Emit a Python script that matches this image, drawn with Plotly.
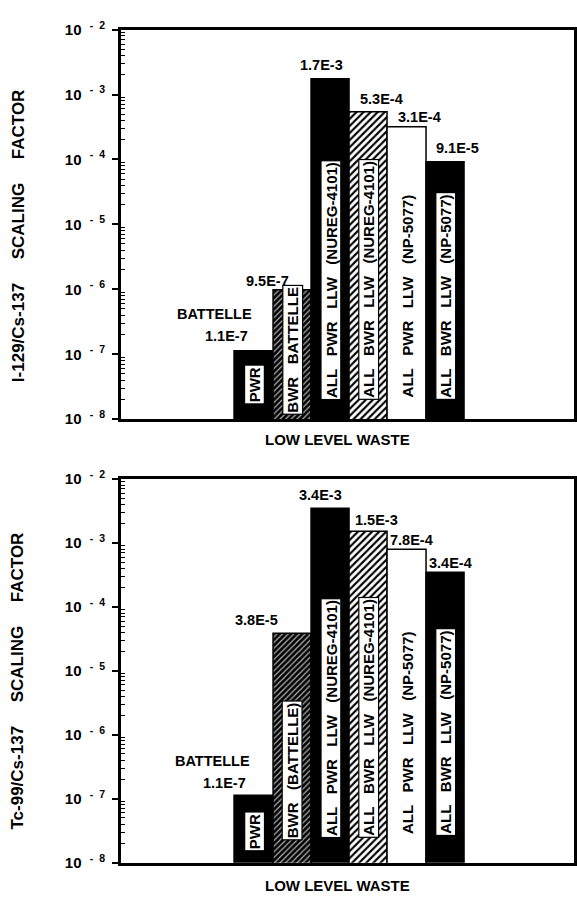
import math
import plotly.graph_objects as go

# ---------------- data ----------------
categories = ["PWR (BATTELLE)", "BWR (BATTELLE)", "ALL PWR LLW (NUREG-4101)",
              "ALL BWR LLW (NUREG-4101)", "ALL PWR LLW (NP-5077)", "ALL BWR LLW (NP-5077)"]
i129_values = [1.1e-7, 9.5e-7, 1.7e-3, 5.3e-4, 3.1e-4, 9.1e-5]
tc99_values = [1.1e-7, 3.8e-5, 3.4e-3, 1.5e-3, 7.8e-4, 3.4e-4]
i129_value_labels = ["1.1E-7", "9.5E-7", "1.7E-3", "5.3E-4", "3.1E-4", "9.1E-5"]
tc99_value_labels = ["1.1E-7", "3.8E-5", "3.4E-3", "1.5E-3", "7.8E-4", "3.4E-4"]
i129_bar_labels = ["PWR", "BWR BATTELLE", "ALL PWR LLW (NUREG-4101)",
                   "ALL BWR LLW (NUREG-4101)", "ALL PWR LLW (NP-5077)",
                   "ALL BWR LLW (NP-5077)"]
tc99_bar_labels = ["PWR", "BWR (BATTELLE)", "ALL PWR LLW (NUREG-4101)",
                   "ALL BWR LLW (NUREG-4101)", "ALL PWR LLW (NP-5077)",
                   "ALL BWR LLW (NP-5077)"]
source_note = "BATTELLE"
y_titles = ["I-129/Cs-137 SCALING FACTOR", "Tc-99/Cs-137 SCALING FACTOR"]
x_title = "LOW LEVEL WASTE"
tick_exponents = [-8, -7, -6, -5, -4, -3, -2]

# ---------------- style ----------------
FONT = "Liberation Sans"
W, H = 577, 901
NB = "\u00a0"
tick_labels = ["10" + NB * 2 + "<sup>-" + NB * 2 + "%d</sup>" % (-e) for e in tick_exponents]
bar_colors = ["black", "black", "black", "white", "white", "black"]
pattern_shapes = ["", "/", "", "/", "", ""]
pattern_fg = ["black", "#b4b4b4", "black", "black", "black", "black"]
pattern_size = [5, 4, 5, 5, 5, 5]
pattern_solid = [0.3, 0.3, 0.3, 0.42, 0.3, 0.3]
# value-label horizontal offsets (in bar widths) and vertical offsets (px)
i129_lbl_dx = [-0.72, -0.65, -0.25, 0.32, 0.31, 0.30]
tc99_lbl_dx = [-0.77, -0.94, -0.27, 0.19, 0.10, 0.12]
i129_lbl_dy = [16, 10, 15, 13, 11, 14]
tc99_lbl_dy = [13, 14, 14, 12, 10, 10]
# bottom of in-bar label boxes (log10 units)
i129_box_bottom = [-7.77, -7.94, -7.71, -7.71, -7.70, -7.71]
tc99_box_bottom = [-7.82, -7.66, -7.62, -7.62, -7.59, -7.59]

x_pos = list(range(len(categories)))
x_range = [-3.486, 8.354]
x_dom = [121 / W, 575 / W]
y_doms = [[1 - 417 / H, 1 - 19 / H], [1 - 870 / H, 1 - 478 / H]]

fig = go.Figure()
annotations = []

panels = [
    (i129_values, i129_value_labels, i129_bar_labels, i129_lbl_dx, i129_lbl_dy, i129_box_bottom),
    (tc99_values, tc99_value_labels, tc99_bar_labels, tc99_lbl_dx, tc99_lbl_dy, tc99_box_bottom),
]

for p, (vals, vlabels, blabels, dx, dy, boxb) in enumerate(panels):
    xa = "x" if p == 0 else "x2"
    ya = "y" if p == 0 else "y2"
    for i, v in enumerate(vals):
        fig.add_trace(go.Bar(
            x=[x_pos[i]], y=[v], width=1.0, xaxis=xa, yaxis=ya,
            name=categories[i],
            marker=dict(color=bar_colors[i],
                        line=dict(color="black", width=1.5),
                        pattern=dict(shape=pattern_shapes[i], fgcolor=pattern_fg[i],
                                     bgcolor=bar_colors[i], size=pattern_size[i],
                                     solidity=pattern_solid[i], fillmode="replace")),
            showlegend=False, hoverinfo="skip"))
        # value labels
        annotations.append(dict(
            x=x_pos[i] + dx[i], y=math.log10(v), xref=xa, yref=ya,
            text=vlabels[i], showarrow=False, xanchor="center", yanchor="middle",
            yshift=dy[i],
            font=dict(family=FONT, size=14.5, color="black", weight="bold")))
    # source note above first bar label
    annotations.append(dict(
        x=x_pos[0] + dx[0] - 0.31, y=math.log10(vals[0]), xref=xa, yref=ya,
        text=source_note, showarrow=False, xanchor="center", yanchor="middle",
        yshift=dy[0] + 22,
        font=dict(family=FONT, size=14.5, color="black", weight="bold")))
    # in-bar rotated labels
    for i, t in enumerate(blabels):
        boxed = bar_colors[i] == "black" or pattern_shapes[i] != ""
        annotations.append(dict(
            x=x_pos[i], y=boxb[i], xref=xa, yref=ya,
            text=t.replace(" ", NB * 3), showarrow=False, textangle=-90,
            yanchor="bottom", xanchor="center",
            bgcolor="white", bordercolor="black" if boxed else "rgba(0,0,0,0)",
            borderwidth=1.2, borderpad=1,
            font=dict(family=FONT, size=15, color="black", weight="bold")))

# axis titles
for title, yc in zip(y_titles, [229, 684]):
    annotations.append(dict(x=18 / W, y=1 - yc / H, xref="paper", yref="paper",
                            text=title.replace(" ", NB * 5), textangle=-90, showarrow=False,
                            xanchor="center", yanchor="middle",
                            font=dict(family=FONT, size=17, color="black", weight="bold")))
for yc in [438, 893]:
    annotations.append(dict(x=338 / W, y=1 - yc / H, xref="paper", yref="paper",
                            text=x_title, showarrow=False, xanchor="center", yanchor="middle",
                            font=dict(family=FONT, size=15, color="black", weight="bold")))

minor_vals = [m * 10 ** k for k in range(-8, -2) for m in range(2, 10)]

def yaxis_cfg(dom, anchor):
    return dict(type="log", range=[-8, -2], domain=dom, anchor=anchor,
                tickmode="array", tickvals=[10 ** e for e in tick_exponents],
                ticktext=tick_labels, ticks="outside", ticklen=6, tickwidth=1.5,
                tickcolor="black", showgrid=False, zeroline=False,
                showline=True, linecolor="black", linewidth=2.5, mirror=True,
                ticklabelstandoff=4,
                tickfont=dict(family=FONT, size=15, color="black", weight="bold"),
                minor=dict(tickvals=minor_vals, ticks="inside", ticklen=4,
                           tickwidth=1, tickcolor="black", showgrid=False))

def xaxis_cfg(anchor):
    return dict(range=x_range, domain=x_dom, anchor=anchor, showticklabels=False,
                ticks="", showgrid=False, zeroline=False, showline=True,
                linecolor="black", linewidth=2.5, mirror=True)

fig.update_layout(
    width=W, height=H, margin=dict(l=0, r=0, t=0, b=0),
    paper_bgcolor="white", plot_bgcolor="white", bargap=0, barmode="overlay",
    xaxis=xaxis_cfg("y"), yaxis=yaxis_cfg(y_doms[0], "x"),
    xaxis2=xaxis_cfg("y2"), yaxis2=yaxis_cfg(y_doms[1], "x2"),
    annotations=annotations,
)

fig.write_html("out.html")
